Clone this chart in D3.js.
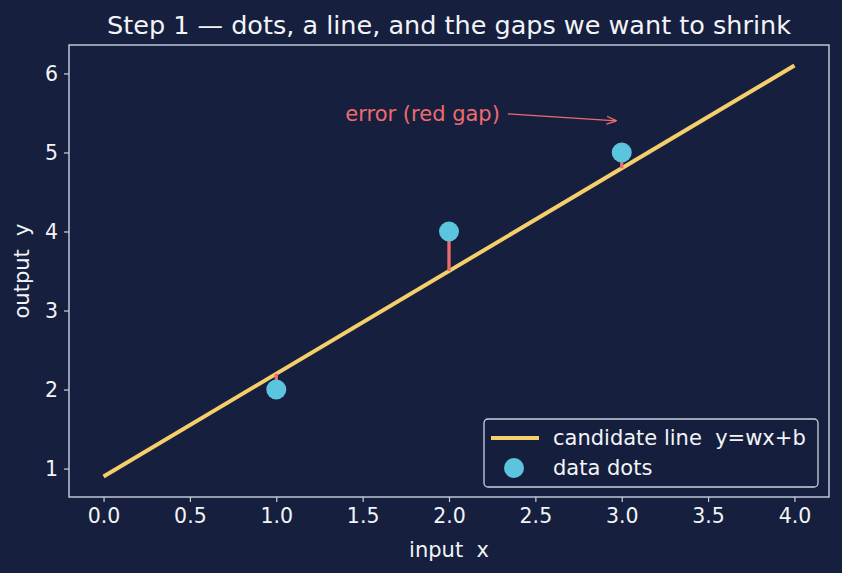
<!DOCTYPE html>
<html>
<head>
    <title>Step 1</title>
    <script src='https://d3js.org/d3.v7.min.js' charset='utf-8'></script>
    <style type="text/css">
        body { margin: 0; background: #161f3d; }
        .chart { display: block; }
        .chart text { font-family: 'DejaVu Sans', sans-serif; fill: #f2f4f8; white-space: pre; }
    </style>
</head>
<body>
    <svg class='chart'></svg>

    <script type='text/javascript'>
    // data
    var dotX = [1, 2, 3];
    var dotY = [2, 4, 5];
    var lineW = 1.3;
    var lineB = 0.9;
    var lineX = [0, 4];
    var xTicks = [0, 0.5, 1, 1.5, 2, 2.5, 3, 3.5, 4];
    var yTicks = [1, 2, 3, 4, 5, 6];
    var noteText = ['error (red gap)'];
    var notePos = [[1.4, 5.4], [2.97, 5.4]];

    var width = 842;
    var height = 573;
    var margin = { top: 45, right: 13, bottom: 76, left: 69 };

    var bg = '#161f3d';
    var frame = '#c9d1e0';
    var gold = '#f5cf6b';
    var cyan = '#5bc5e0';
    var red = '#ee6b6e';
    var fs = '21px';

    var chart = d3.select('.chart')
        .attr('width', width)
        .attr('height', height)
        .style('background', bg);

    var x = d3.scaleLinear()
        .domain([-0.2, 4.2])
        .range([margin.left, width - margin.right]);

    var y = d3.scaleLinear()
        .domain([0.64, 6.36])
        .range([height - margin.bottom, margin.top]);

    var lineData = lineX.map(function (v) { return { x: v, y: lineW * v + lineB }; });
    var dots = dotX.map(function (v, i) { return { x: v, y: dotY[i], fit: lineW * v + lineB }; });

    // candidate line
    chart.append('path')
        .datum(lineData)
        .attr('fill', 'none')
        .attr('stroke', gold)
        .attr('stroke-width', 4)
        .attr('d', d3.line().x(function (d) { return x(d.x); }).y(function (d) { return y(d.y); }));

    // red gaps
    chart.selectAll('.gap')
        .data(dots)
        .enter()
            .append('line')
            .attr('class', 'gap')
            .attr('x1', function (d) { return x(d.x); })
            .attr('x2', function (d) { return x(d.x); })
            .attr('y1', function (d) { return y(d.y); })
            .attr('y2', function (d) { return y(d.fit); })
            .attr('stroke', red)
            .attr('stroke-width', 3.3);

    // data dots
    chart.selectAll('.dot')
        .data(dots)
        .enter()
            .append('circle')
            .attr('class', 'dot')
            .attr('cx', function (d) { return x(d.x); })
            .attr('cy', function (d) { return y(d.y); })
            .attr('r', 10)
            .attr('fill', cyan);

    // annotation
    var defs = chart.append('defs');
    defs.append('marker')
        .attr('id', 'head')
        .attr('viewBox', '0 0 10 10')
        .attr('refX', 10)
        .attr('refY', 5)
        .attr('markerWidth', 10)
        .attr('markerHeight', 10)
        .attr('markerUnits', 'userSpaceOnUse')
        .attr('orient', 'auto')
        .append('path')
            .attr('d', 'M0,1 L10,5 L0,9')
            .attr('fill', 'none')
            .attr('stroke', red)
            .attr('stroke-width', 1.3);

    var note = chart.append('text')
        .attr('x', x(notePos[0][0]))
        .attr('y', y(notePos[0][1]))
        .style('font-size', fs)
        .style('fill', red)
        .text(noteText[0]);

    var nb = note.node().getBBox();
    chart.append('line')
        .attr('x1', nb.x + nb.width + 8)
        .attr('y1', nb.y + nb.height / 2)
        .attr('x2', x(notePos[1][0]))
        .attr('y2', y(notePos[1][1]))
        .attr('stroke', red)
        .attr('stroke-width', 1.4)
        .attr('marker-end', 'url(#head)');

    // axes
    var xAxis = chart.append('g')
        .attr('transform', 'translate(0,' + (height - margin.bottom) + ')')
        .call(d3.axisBottom(x).tickValues(xTicks).tickFormat(d3.format('.1f')).tickSize(5).tickPadding(6));

    var yAxis = chart.append('g')
        .attr('transform', 'translate(' + margin.left + ',0)')
        .call(d3.axisLeft(y).tickValues(yTicks).tickFormat(d3.format('d')).tickSize(5).tickPadding(6));

    [xAxis, yAxis].forEach(function (g) {
        g.select('.domain').remove();
        g.selectAll('line').attr('stroke', frame).attr('stroke-width', 1.2);
        g.selectAll('text').style('font-size', '20.5px').attr('fill', '#f2f4f8');
    });

    chart.append('rect')
        .attr('x', margin.left)
        .attr('y', margin.top)
        .attr('width', width - margin.left - margin.right)
        .attr('height', height - margin.top - margin.bottom)
        .attr('fill', 'none')
        .attr('stroke', frame)
        .attr('stroke-width', 1.4);

    // labels
    chart.append('text')
        .attr('x', (margin.left + width - margin.right) / 2)
        .attr('y', 34)
        .attr('text-anchor', 'middle')
        .style('font-size', '25.5px')
        .text('Step 1 \u2014 dots, a line, and the gaps we want to shrink');

    chart.append('text')
        .attr('x', (margin.left + width - margin.right) / 2)
        .attr('y', 557)
        .attr('text-anchor', 'middle')
        .style('font-size', fs)
        .text('input  x');

    chart.append('text')
        .attr('transform', 'translate(29,' + (margin.top + height - margin.bottom) / 2 + ') rotate(-90)')
        .attr('text-anchor', 'middle')
        .style('font-size', fs)
        .text('output  y');

    // legend
    var legend = chart.append('g')
        .attr('transform', 'translate(484,419)');

    legend.append('rect')
        .attr('width', 334)
        .attr('height', 68)
        .attr('rx', 4)
        .attr('fill', bg)
        .attr('fill-opacity', 0.85)
        .attr('stroke', frame)
        .attr('stroke-width', 1.3);

    legend.append('line')
        .attr('x1', 7).attr('x2', 55)
        .attr('y1', 19).attr('y2', 19)
        .attr('stroke', gold)
        .attr('stroke-width', 4);

    legend.append('circle')
        .attr('cx', 30).attr('cy', 49)
        .attr('r', 10)
        .attr('fill', cyan);

    legend.append('text')
        .attr('x', 69).attr('y', 26)
        .style('font-size', fs)
        .text('candidate line  y=wx+b');

    legend.append('text')
        .attr('x', 69).attr('y', 56)
        .style('font-size', fs)
        .text('data dots');
    </script>
</body>
</html>
